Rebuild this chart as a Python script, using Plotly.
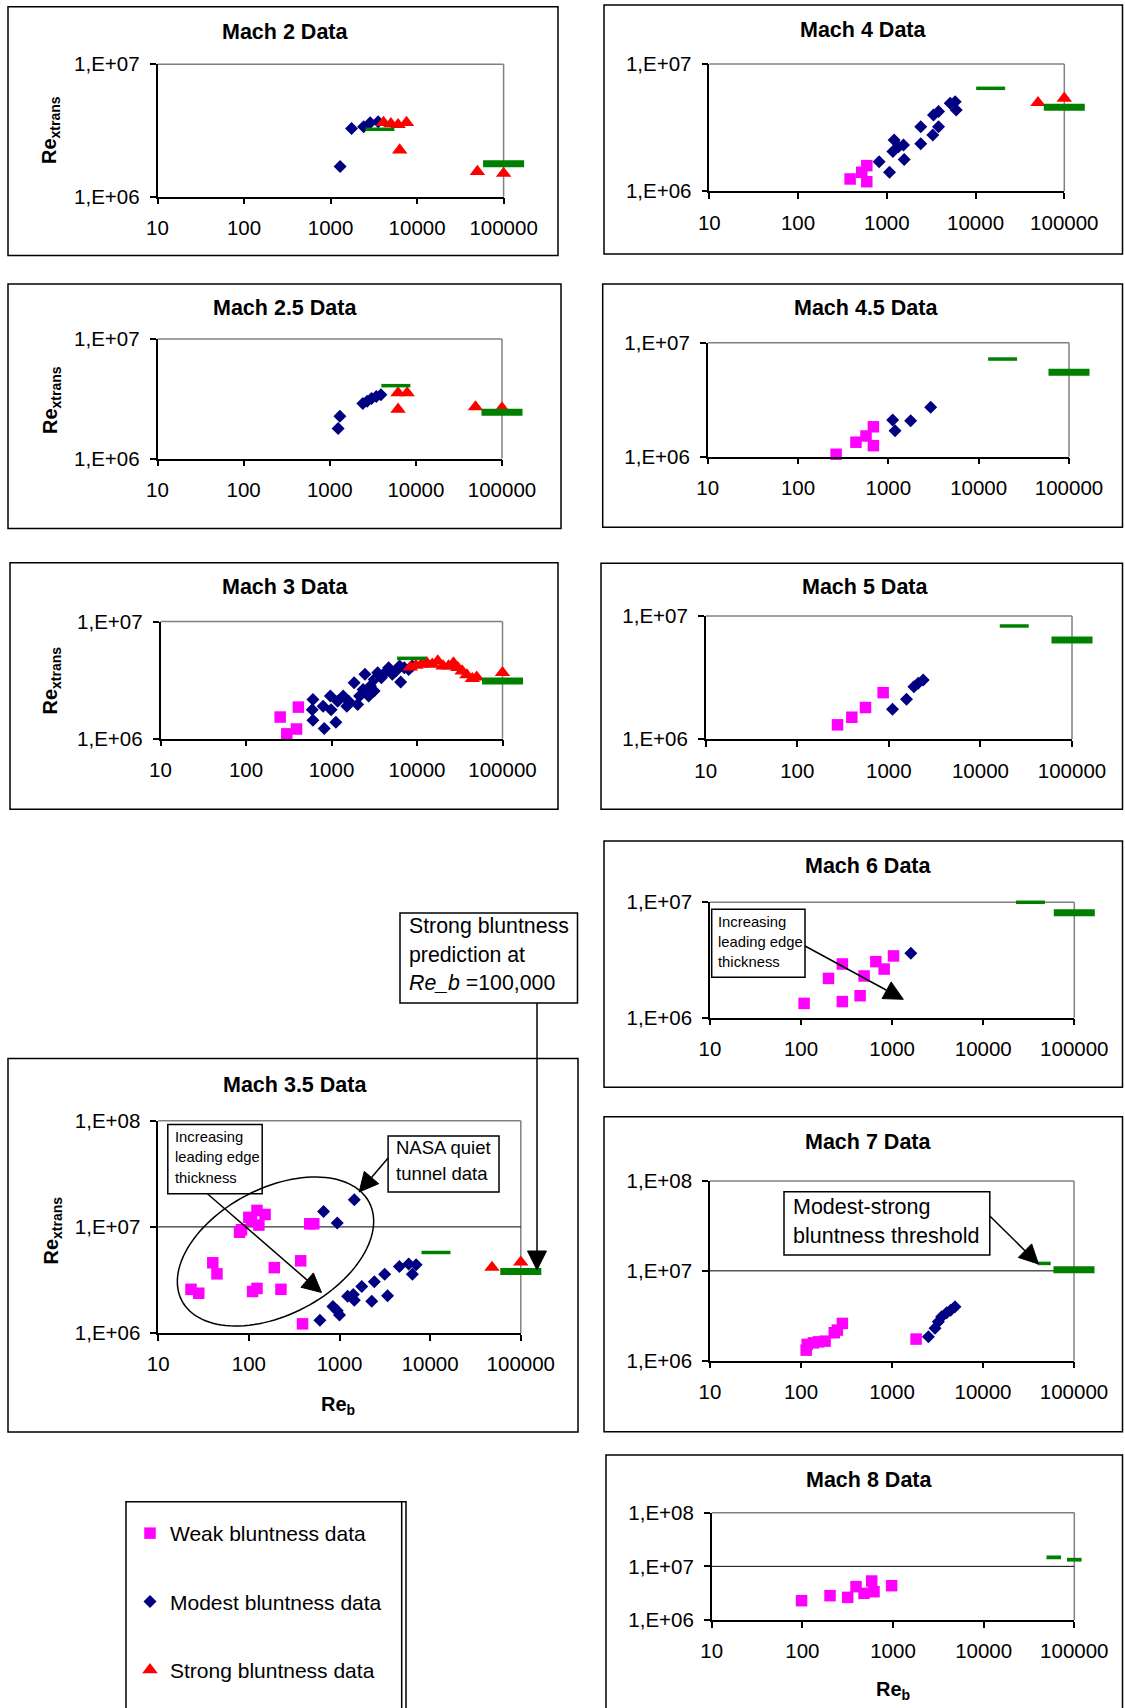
import math
import plotly.graph_objects as go

W, H = 1125, 1708
FONT = "Liberation Sans"

# ---------------- data (Re_b, Re_xtrans) ----------------
# Mach 2
m2_modest_x = [1290, 1750, 2410, 2870, 3550]
m2_modest_y = [1.69e6, 3.28e6, 3.38e6, 3.62e6, 3.69e6]
m2_strong_x = [4100, 4980, 6030, 7550, 6300, 49800, 100000]
m2_strong_y = [3.63e6, 3.55e6, 3.5e6, 3.63e6, 2.25e6, 1.55e6, 1.5e6]
m2_thresh_x, m2_thresh_y = [3720], [3.23e6]
m2_pred_x, m2_pred_y = [100000], [1.77e6]

# Mach 2.5
m25_modest_x = [1250, 1310, 2420, 2720, 3060, 3470, 3930]
m25_modest_y = [1.78e6, 2.26e6, 2.88e6, 3.01e6, 3.17e6, 3.31e6, 3.42e6]
m25_strong_x = [6210, 7920, 6210, 49200, 100000]
m25_strong_y = [3.54e6, 3.54e6, 2.58e6, 2.7e6, 2.64e6]
m25_thresh_x, m25_thresh_y = [5860], [4.07e6]
m25_pred_x, m25_pred_y = [100000], [2.44e6]

# Mach 3
m3_weak_x = [251, 410, 300, 390]
m3_weak_y = [1.53e6, 1.86e6, 1.1e6, 1.21e6]
m3_modest_x = [607, 596, 607, 822, 798, 970, 990, 1125, 1180, 1370,
               1510, 1590, 1840, 2020, 2130, 2345, 2460, 2720, 2850, 3150,
               3150, 3470, 3830, 4220, 4660, 5140, 5660, 6250, 6440, 7100,
               7980, 8810]
m3_modest_y = [2.16e6, 1.77e6, 1.44e6, 1.22e6, 1.89e6, 2.31e6, 1.77e6, 1.38e6, 2.09e6, 2.31e6,
               1.89e6, 2.09e6, 3.0e6, 1.96e6, 2.31e6, 2.63e6, 3.54e6, 2.31e6, 2.81e6, 2.55e6,
               3.2e6, 3.66e6, 3.31e6, 3.66e6, 4.04e6, 3.54e6, 3.78e6, 4.17e6, 3.04e6, 4.04e6,
               3.9e6, 4.17e6]
m3_strong_x = [8370, 9700, 11240, 13000, 15100, 17500, 20200, 23400, 26700, 30000,
               33700, 38300, 44400, 49900, 100000]
m3_strong_y = [4.08e6, 4.22e6, 4.31e6, 4.45e6, 4.31e6, 4.6e6, 4.17e6, 4.17e6, 4.42e6, 4.04e6,
               3.78e6, 3.5e6, 3.25e6, 3.35e6, 3.66e6]
m3_thresh_x, m3_thresh_y = [8640], [4.85e6]
m3_pred_x, m3_pred_y = [100000], [3.1e6]

# Mach 3.5
m35_weak_x = [23, 28, 40, 44.5, 79, 83, 100, 107, 123, 129, 151, 110, 123, 191, 226, 373, 470, 520, 391]
m35_weak_y = [2.58e6, 2.37e6, 4.59e6, 3.61e6, 8.9e6, 9.4e6, 1.23e7, 1.15e7, 1.43e7, 1.04e7,
              1.31e7, 2.46e6, 2.63e6, 4.13e6, 2.58e6, 4.79e6, 1.07e7, 1.07e7, 1.22e6]
m35_modest_x = [667, 945, 1456, 608, 846, 945, 1000, 1230, 1420, 1456,
                1760, 2270, 2420, 3150, 3390, 4580, 5800, 6370, 7000]
m35_modest_y = [1.4e7, 1.09e7, 1.8e7, 1.32e6, 1.78e6, 1.62e6, 1.48e6, 2.22e6, 2.31e6, 2.03e6,
                2.75e6, 1.99e6, 3.04e6, 3.58e6, 2.24e6, 4.23e6, 4.48e6, 3.58e6, 4.41e6]
m35_strong_x = [48100, 100000]
m35_strong_y = [4.15e6, 4.65e6]
m35_thresh_x, m35_thresh_y = [11600], [5.74e6]
m35_pred_x, m35_pred_y = [100000], [3.79e6]

# Mach 4
m4_weak_x = [386, 522, 595, 595]
m4_weak_y = [1.25e6, 1.41e6, 1.59e6, 1.19e6]
m4_modest_x = [820, 1072, 1170, 1210, 1355, 1543, 1570, 2414, 2414, 3300, 3360, 3830, 3830, 5180, 5900, 6050]
m4_modest_y = [1.71e6, 1.41e6, 2.05e6, 2.53e6, 2.24e6, 2.31e6, 1.78e6, 3.22e6, 2.36e6, 2.77e6,
               3.98e6, 4.23e6, 3.22e6, 4.91e6, 5.06e6, 4.36e6]
m4_strong_x = [50500, 100000]
m4_strong_y = [4.97e6, 5.37e6]
m4_thresh_x, m4_thresh_y = [14800], [6.44e6]
m4_pred_x, m4_pred_y = [100000], [4.57e6]

# Mach 4.5
m45_weak_x = [264, 438, 566, 683, 683]
m45_weak_y = [1.05e6, 1.34e6, 1.52e6, 1.83e6, 1.25e6]
m45_modest_x = [1117, 1186, 1766, 2944]
m45_modest_y = [2.1e6, 1.69e6, 2.07e6, 2.71e6]
m45_thresh_x, m45_thresh_y = [18400], [7.19e6]
m45_pred_x, m45_pred_y = [100000], [5.5e6]

# Mach 5
m5_weak_x = [275, 394, 556, 867]
m5_weak_y = [1.31e6, 1.51e6, 1.81e6, 2.39e6]
m5_modest_x = [1097, 1559, 1875, 2090, 2370]
m5_modest_y = [1.75e6, 2.11e6, 2.67e6, 2.85e6, 3.03e6]
m5_thresh_x, m5_thresh_y = [23400], [8.3e6]
m5_pred_x, m5_pred_y = [100000], [6.38e6]

# Mach 6
m6_weak_x = [108, 200, 284, 284, 445, 492, 662, 817, 1035]
m6_weak_y = [1.33e6, 2.19e6, 2.92e6, 1.38e6, 1.55e6, 2.3e6, 3.06e6, 2.64e6, 3.43e6]
m6_modest_x = [1603]
m6_modest_y = [3.61e6]
m6_thresh_x, m6_thresh_y = [33000], [1.0e7]
m6_pred_x, m6_pred_y = [100000], [8.13e6]

# Mach 7
m7_weak_x = [114, 117, 137, 155, 184, 232, 251, 285, 1840]
m7_weak_y = [1.31e6, 1.52e6, 1.58e6, 1.62e6, 1.65e6, 2.05e6, 2.19e6, 2.6e6, 1.74e6]
m7_modest_x = [2510, 2970, 3230, 3510, 3990, 4410, 4920]
m7_modest_y = [1.85e6, 2.29e6, 2.71e6, 3.08e6, 3.41e6, 3.65e6, 3.98e6]
m7_thresh_x, m7_thresh_y = [47000], [1.21e7]
m7_pred_x, m7_pred_y = [100000], [1.03e7]

# Mach 8
m8_weak_x = [98, 202, 316, 391, 479, 582, 617, 966]
m8_weak_y = [2.29e6, 2.84e6, 2.64e6, 4.18e6, 3.14e6, 5.33e6, 3.37e6, 4.36e6]
m8_thresh_x, m8_thresh_y = [59400], [1.47e7]
m8_pred_x, m8_pred_y = [100000], [1.33e7]

x_tickvals = [10, 100, 1000, 10000, 100000]
x_ticktext = ["10", "100", "1000", "10000", "100000"]
y_tickvals_1 = [1e6, 1e7]
y_ticktext_1 = ["1,E+06", "1,E+07"]
y_tickvals_2 = [1e6, 1e7, 1e8]
y_ticktext_2 = ["1,E+06", "1,E+07", "1,E+08"]

DATA = {
    "m2": dict(modest=(m2_modest_x, m2_modest_y), strong=(m2_strong_x, m2_strong_y),
               thresh=(m2_thresh_x, m2_thresh_y), pred=(m2_pred_x, m2_pred_y)),
    "m25": dict(modest=(m25_modest_x, m25_modest_y), strong=(m25_strong_x, m25_strong_y),
                thresh=(m25_thresh_x, m25_thresh_y), pred=(m25_pred_x, m25_pred_y)),
    "m3": dict(weak=(m3_weak_x, m3_weak_y), modest=(m3_modest_x, m3_modest_y),
               strong=(m3_strong_x, m3_strong_y), thresh=(m3_thresh_x, m3_thresh_y),
               pred=(m3_pred_x, m3_pred_y)),
    "m35": dict(weak=(m35_weak_x, m35_weak_y), modest=(m35_modest_x, m35_modest_y),
                strong=(m35_strong_x, m35_strong_y), thresh=(m35_thresh_x, m35_thresh_y),
                pred=(m35_pred_x, m35_pred_y)),
    "m4": dict(weak=(m4_weak_x, m4_weak_y), modest=(m4_modest_x, m4_modest_y),
               strong=(m4_strong_x, m4_strong_y), thresh=(m4_thresh_x, m4_thresh_y),
               pred=(m4_pred_x, m4_pred_y)),
    "m45": dict(weak=(m45_weak_x, m45_weak_y), modest=(m45_modest_x, m45_modest_y),
                thresh=(m45_thresh_x, m45_thresh_y), pred=(m45_pred_x, m45_pred_y)),
    "m5": dict(weak=(m5_weak_x, m5_weak_y), modest=(m5_modest_x, m5_modest_y),
               thresh=(m5_thresh_x, m5_thresh_y), pred=(m5_pred_x, m5_pred_y)),
    "m6": dict(weak=(m6_weak_x, m6_weak_y), modest=(m6_modest_x, m6_modest_y),
               thresh=(m6_thresh_x, m6_thresh_y), pred=(m6_pred_x, m6_pred_y)),
    "m7": dict(weak=(m7_weak_x, m7_weak_y), modest=(m7_modest_x, m7_modest_y),
               thresh=(m7_thresh_x, m7_thresh_y), pred=(m7_pred_x, m7_pred_y)),
    "m8": dict(weak=(m8_weak_x, m8_weak_y),
               thresh=(m8_thresh_x, m8_thresh_y), pred=(m8_pred_x, m8_pred_y)),
}

# ---------------- layout of the panels (pixels) ----------------
RB = 1122.5  # right edge of right-column chart boxes
PANELS = [
    dict(key="m2", title="Mach 2 Data", plot=(157.5, 64.3, 503.6, 196.7), box=(8, 6.7, 558, 255.5),
         tpos=(285, 32.3), dec=1, ytitle=(51, 130)),
    dict(key="m25", title="Mach 2.5 Data", plot=(157.5, 339.0, 502.0, 458.5), box=(8, 284, 561, 528.5),
         tpos=(285, 308.3), dec=1, ytitle=(51, 400)),
    dict(key="m3", title="Mach 3 Data", plot=(160.5, 621.5, 502.5, 738.7), box=(10, 562.7, 558, 809.3),
         tpos=(285.5, 587.3), dec=1, ytitle=(51, 680.5)),
    dict(key="m35", title="Mach 3.5 Data", plot=(158.2, 1120.8, 520.8, 1333.0), box=(8, 1058.5, 578, 1432),
         tpos=(295, 1084.5), dec=2, ytitle=(51.5, 1231), xtitle=(338, 1405)),
    dict(key="m4", title="Mach 4 Data", plot=(709.3, 64.0, 1064.3, 191.3), box=(604, 5, RB, 254),
         tpos=(863.3, 30)),
    dict(key="m45", title="Mach 4.5 Data", plot=(707.7, 342.7, 1069.0, 456.7), box=(602.7, 284, RB, 527.3),
         tpos=(865.7, 308.3)),
    dict(key="m5", title="Mach 5 Data", plot=(705.7, 616.0, 1072.0, 739.3), box=(601, 563.3, RB, 809.3),
         tpos=(865, 586.7)),
    dict(key="m6", title="Mach 6 Data", plot=(710.0, 902.3, 1074.3, 1017.7), box=(604, 841, RB, 1087.3),
         tpos=(868.7, 866)),
    dict(key="m7", title="Mach 7 Data", plot=(710.0, 1181.0, 1074.0, 1360.7), box=(604, 1116.7, RB, 1431.7),
         tpos=(868.3, 1141.7), dec=2),
    dict(key="m8", title="Mach 8 Data", plot=(711.7, 1512.7, 1074.3, 1620.0), box=(606, 1455, RB, 1712),
         tpos=(869.3, 1480), dec=2, xtitle=(893.3, 1690)),
]

BAR_STYLE = {  # (thin size, thin width, thick size, thick width)
    "m2": (20.7, 3.5, 29.3, 7), "m25": (20.7, 3.5, 29.3, 7), "m3": (20.7, 3.5, 29.3, 7),
    "m35": (20.7, 3.5, 29.3, 7), "m4": (20.7, 3.5, 29.3, 7), "m45": (20.7, 3.5, 29.3, 7),
    "m5": (20.7, 3.5, 29.3, 7), "m6": (20.7, 3.5, 29.3, 7), "m7": (9.3, 3.5, 29.3, 7),
    "m8": (10.4, 3.8, 10.4, 3.8),
}

SERIES = {
    "weak": dict(name="Weak bluntness data", symbol="square", size=11.5, color="#FF00FF", rank=1),
    "modest": dict(name="Modest bluntness data", symbol="diamond", size=10, color="#000080", rank=2),
    "strong": dict(name="Strong bluntness data", symbol="triangle-up", size=13.5, color="#FF0000", rank=3),
}
GREEN = "#008000"


def px(x):
    return x / W


def py(y):
    return 1 - y / H


fig = go.Figure()
shapes = []
annotations = []
shown = set()
layout_axes = {}

for i, p in enumerate(PANELS, start=1):
    sfx = "" if i == 1 else str(i)
    xa, ya = "x" + sfx, "y" + sfx
    x0, y0, x1, y1 = p["plot"]
    dec = p.get("dec", 1)
    d = DATA[p["key"]]

    for s in ["weak", "modest", "strong"]:
        if s in d:
            st = SERIES[s]
            fig.add_trace(go.Scatter(
                x=d[s][0], y=d[s][1], mode="markers", xaxis=xa, yaxis=ya,
                name=st["name"], legendgroup=s, legendrank=st["rank"],
                showlegend=(s not in shown), cliponaxis=False,
                marker=dict(symbol=st["symbol"], size=st["size"], color=st["color"],
                            line=dict(width=0))))
            shown.add(s)
    ts, tw, ks, kw = BAR_STYLE[p["key"]]
    for s, sz, lw in [("thresh", ts, tw), ("pred", ks, kw)]:
        fig.add_trace(go.Scatter(
            x=d[s][0], y=d[s][1], mode="markers", xaxis=xa, yaxis=ya,
            showlegend=False, cliponaxis=False,
            marker=dict(symbol="line-ew", size=sz, color=GREEN,
                        line=dict(width=lw, color=GREEN))))

    layout_axes["xaxis" + sfx] = dict(
        domain=[px(x0), px(x1)], anchor=ya, type="log", range=[1, 5],
        tickvals=x_tickvals, ticktext=x_ticktext, ticks="outside", ticklen=6,
        tickwidth=1.5, tickcolor="black", showline=True, linecolor="black",
        linewidth=1.5, showgrid=False, zeroline=False, ticklabelstandoff=6,
        automargin=False,
        tickfont=dict(family=FONT, size=20.5, color="black"), fixedrange=True)
    layout_axes["yaxis" + sfx] = dict(
        domain=[py(y1), py(y0)], anchor=xa, type="log", range=[6, 6 + dec],
        tickvals=y_tickvals_1 if dec == 1 else y_tickvals_2,
        ticktext=y_ticktext_1 if dec == 1 else y_ticktext_2,
        ticks="outside", ticklen=6, tickwidth=1.5, tickcolor="black",
        showline=True, linecolor="black", linewidth=1.5, showgrid=False,
        zeroline=False, ticklabelstandoff=6, automargin=False,
        tickfont=dict(family=FONT, size=20.5, color="black"), fixedrange=True)

    # gray plot-area border (top and right)
    shapes.append(dict(type="line", xref="paper", yref="paper", x0=px(x0), x1=px(x1),
                       y0=py(y0), y1=py(y0), line=dict(color="#808080", width=1.5), layer="below"))
    shapes.append(dict(type="line", xref="paper", yref="paper", x0=px(x1), x1=px(x1),
                       y0=py(y0), y1=py(y1), line=dict(color="#808080", width=1.5), layer="below"))
    if dec == 2:
        shapes.append(dict(type="line", xref=xa + " domain", yref=ya + " domain", x0=0, x1=1,
                           y0=0.5, y1=0.5, line=dict(color="black", width=1), layer="below"))
    # chart box
    bx0, by0, bx1, by1 = p["box"]
    shapes.append(dict(type="rect", xref="paper", yref="paper", x0=px(bx0), x1=px(bx1),
                       y0=py(by1), y1=py(by0), line=dict(color="black", width=1.5), layer="below"))
    # titles
    annotations.append(dict(text="<b>%s</b>" % p["title"], x=px(p["tpos"][0]), y=py(p["tpos"][1]),
                            xref="paper", yref="paper", xanchor="center", yanchor="middle",
                            showarrow=False, font=dict(family=FONT, size=21.5, color="black")))
    if "ytitle" in p:
        annotations.append(dict(text="<b>Re<sub>xtrans</sub></b>", x=px(p["ytitle"][0]),
                                y=py(p["ytitle"][1]), xref="paper", yref="paper", textangle=-90,
                                xanchor="center", yanchor="middle", showarrow=False,
                                font=dict(family=FONT, size=20, color="black")))
    if "xtitle" in p:
        annotations.append(dict(text="<b>Re<sub>b</sub></b>", x=px(p["xtitle"][0]),
                                y=py(p["xtitle"][1]), xref="paper", yref="paper",
                                xanchor="center", yanchor="middle", showarrow=False,
                                font=dict(family=FONT, size=20, color="black")))


# ---------------- call-out boxes, arrows, ellipse ----------------
def box(x0, y0, x1, y1):
    shapes.append(dict(type="rect", xref="paper", yref="paper", x0=px(x0), x1=px(x1),
                       y0=py(y1), y1=py(y0), line=dict(color="black", width=1.5),
                       fillcolor="white", layer="above"))


def text_lines(x, ys, lines, size):
    for yy, t in zip(ys, lines):
        annotations.append(dict(text=t, x=px(x), y=py(yy), xref="paper", yref="paper",
                                xanchor="left", yanchor="middle", showarrow=False,
                                font=dict(family=FONT, size=size, color="black")))


def arrow(tail, tip, head_len=19.0, head_w=19.0):
    dx, dy = tip[0] - tail[0], tip[1] - tail[1]
    ln = math.hypot(dx, dy)
    ux, uy = dx / ln, dy / ln
    nx, ny = -uy, ux
    bx, by = tip[0] - head_len * ux, tip[1] - head_len * uy
    shapes.append(dict(type="line", xref="paper", yref="paper", x0=px(tail[0]), y0=py(tail[1]),
                       x1=px(bx), y1=py(by), line=dict(color="black", width=1.5), layer="above"))
    c1 = (bx + nx * head_w / 2, by + ny * head_w / 2)
    c2 = (bx - nx * head_w / 2, by - ny * head_w / 2)
    path = "M %.5f,%.5f L %.5f,%.5f L %.5f,%.5f Z" % (px(tip[0]), py(tip[1]), px(c1[0]), py(c1[1]),
                                                      px(c2[0]), py(c2[1]))
    shapes.append(dict(type="path", xref="paper", yref="paper", path=path, fillcolor="black",
                       line=dict(color="black", width=1), layer="above"))


# Strong bluntness prediction call-out
box(400, 913, 577.5, 1003)
text_lines(406.5, [926, 954.5, 982.5],
           ["Strong bluntness", "prediction at", "<i>Re_b</i> =100,000"], 21.3)
arrow((537, 1003), (537, 1270))

# Mach 3.5 call-outs
box(167.8, 1124.5, 262.2, 1193.8)
text_lines(173, [1136.6, 1157.4, 1177.5], ["Increasing", "leading edge", "thickness"], 14.8)
arrow((207.4, 1193.8), (321.5, 1292.5))
box(388.1, 1135.9, 499.0, 1192.0)
text_lines(394.4, [1147.7, 1173], ["NASA quiet", "tunnel data"], 18.5)
arrow((388.1, 1158), (359.2, 1192))

# ellipse around NASA quiet tunnel data
cx, cy, ea, eb, eth = 275.5, 1251.5, 105.8, 63.2, math.radians(27.7)
pts = []
for k in range(120):
    t = 2 * math.pi * k / 120
    ex = cx + ea * math.cos(eth) * math.cos(t) - eb * math.sin(eth) * math.sin(t)
    ey = cy - (ea * math.sin(eth) * math.cos(t) + eb * math.cos(eth) * math.sin(t))
    pts.append("%.5f,%.5f" % (px(ex), py(ey)))
shapes.append(dict(type="path", xref="paper", yref="paper", path="M " + " L ".join(pts) + " Z",
                   line=dict(color="black", width=1.5), layer="above"))

# Mach 6 call-out
box(711.7, 909.3, 805.0, 977.3)
text_lines(716, [921.7, 941.7, 961.7], ["Increasing", "leading edge", "thickness"], 14.8)
arrow((805, 946), (903.3, 999.3))

# Mach 7 call-out
box(784, 1191.7, 989.8, 1255)
text_lines(790.9, [1206.7, 1235.7], ["Modest-strong", "bluntness threshold"], 21.5)
arrow((989.8, 1216), (1038.5, 1264))

# legend frame
shapes.append(dict(type="rect", xref="paper", yref="paper", x0=px(126), x1=px(406),
                   y0=py(1712), y1=py(1501.7), line=dict(color="black", width=1.5), layer="below"))
shapes.append(dict(type="line", xref="paper", yref="paper", x0=px(401.7), x1=px(401.7),
                   y0=py(1712), y1=py(1501.7), line=dict(color="black", width=1.5), layer="below"))

fig.update_layout(
    width=W, height=H, autosize=False,
    margin=dict(l=0, r=0, t=0, b=0, autoexpand=False),
    paper_bgcolor="white", plot_bgcolor="rgba(0,0,0,0)",
    showlegend=True,
    legend=dict(x=px(130), y=py(1513), xanchor="left", yanchor="top",
                bgcolor="rgba(0,0,0,0)", borderwidth=0, traceorder="grouped",
                tracegroupgap=38, itemsizing="trace",
                font=dict(family=FONT, size=21, color="black")),
    shapes=shapes, annotations=annotations,
    **layout_axes,
)

fig.write_html(
    "out.html",
    config={"displayModeBar": False},
    post_script="document.body.style.margin='0px';document.body.style.padding='0px';"
                "document.documentElement.style.overflow='hidden';",
)
